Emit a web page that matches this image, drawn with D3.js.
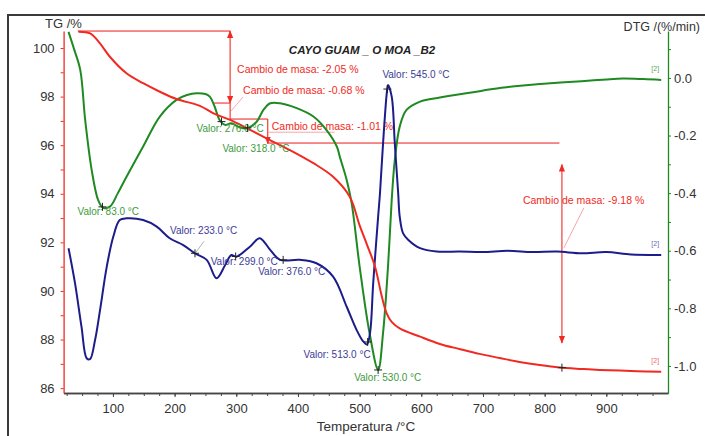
<!DOCTYPE html>
<html>
<head>
<meta charset="utf-8">
<script src="https://cdn.jsdelivr.net/npm/d3@7"></script>
<style>
  html, body { margin: 0; padding: 0; background: #fff; }
  svg { display: block; font-family: "Liberation Sans", Arial, sans-serif; }
</style>
</head>
<body>
<svg id="chart" width="705" height="436"></svg>
<script>
// ---------------- DATA ----------------
const title = "CAYO GUAM _ O MOA _B2";

// TG curve (mass %), red
const tgTemp = [44, 63, 79, 95, 122, 149, 176, 203, 241, 263, 290, 317, 349, 387, 425, 457, 484, 500, 512, 525, 536, 544, 552, 565, 598, 630, 662, 694, 727, 759, 792, 824, 860, 889, 950, 989];
const tgVal  = [100.67, 100.6, 100.19, 99.64, 98.96, 98.55, 98.2, 97.9, 97.62, 97.31, 97.04, 96.7, 96.28, 95.8, 95.26, 94.7, 93.88, 92.7, 91.9, 91.0, 89.77, 89.07, 88.73, 88.46, 88.12, 87.82, 87.61, 87.41, 87.24, 87.08, 86.95, 86.85, 86.79, 86.75, 86.7, 86.67];

// DTG curve (%/min), green
const dtgTemp = [28, 37, 47, 55, 65.5, 76, 84, 95, 108, 122, 149, 176, 203, 220, 236, 250, 257, 265, 273, 282, 292, 303, 317, 333, 344, 355, 371, 398, 425, 446, 463, 468, 479, 487, 500, 516, 530, 538, 546, 552, 557, 565, 576, 598, 630, 657, 684, 710, 738, 765, 792, 820, 846, 875, 900, 927, 960, 989];
const dtgVal  = [0.16, 0.1, 0.028, -0.146, -0.319, -0.424, -0.451, -0.447, -0.4, -0.343, -0.238, -0.134, -0.076, -0.059, -0.053, -0.056, -0.065, -0.1, -0.146, -0.163, -0.157, -0.169, -0.175, -0.152, -0.111, -0.088, -0.088, -0.105, -0.134, -0.18, -0.238, -0.275, -0.354, -0.434, -0.655, -0.885, -1.014, -0.885, -0.655, -0.424, -0.285, -0.169, -0.111, -0.082, -0.068, -0.058, -0.05, -0.04, -0.032, -0.026, -0.021, -0.017, -0.013, -0.009, -0.005, -0.002, -0.004, -0.007];

// third signal (blue), plotted on the TG scale units
const blueTemp = [28, 38.5, 49, 57.4, 62.8, 71, 79, 90, 100.5, 111, 122, 149, 171, 192, 214, 233, 252, 268, 282, 292, 300, 322, 338, 355, 371, 403, 430, 457, 479, 495, 505, 512, 517, 522, 530, 533, 538, 544, 546, 552, 557, 562.5, 565, 570.5, 579, 598, 625, 662, 700, 740, 780, 820, 860, 900, 940, 989];
const blueVal  = [91.76, 90.32, 88.53, 87.23, 87.19, 87.98, 89.2, 91.0, 92.23, 92.92, 92.99, 92.92, 92.65, 92.17, 91.89, 91.55, 91.28, 90.52, 91.07, 91.48, 91.41, 91.82, 92.17, 91.69, 91.28, 91.28, 91.14, 90.59, 89.35, 88.4, 87.95, 87.8, 88.3, 90.32, 93.06, 94.02, 96.08, 98.14, 98.48, 98.0, 96.08, 94.02, 93.06, 92.37, 92.1, 91.76, 91.62, 91.62, 91.6, 91.65, 91.6, 91.62, 91.55, 91.6, 91.5, 91.48];

// axis ticks
const xMajor = [100, 200, 300, 400, 500, 600, 700, 800, 900];
const tgMajor = [86, 88, 90, 92, 94, 96, 98, 100];
const dtgMajor = [0.0, -0.2, -0.4, -0.6, -0.8, -1.0];

// peak annotations ("Valor")
const greenPeaks = [83, 276, 318, 530];
const bluePeaks  = [233, 299, 376, 513, 545];

// mass change annotations
const massSteps = [
  { label: "Cambio de masa: -2.05 %", t: 290, from: 100.7, to: 97.74 },
  { label: "Cambio de masa: -0.68 %", t: 290, from: 97.74, to: 97.08 },
  { label: "Cambio de masa: -1.01 %", t: 351, from: 97.08, to: 96.07 },
  { label: "Cambio de masa: -9.18 %", t: 828, from: 95.2, to: 87.86 }
];
const refLines = [
  { t0: 43, t1: 290, v: 100.7 },
  { t0: 262, t1: 290, v: 97.74 },
  { t0: 290, t1: 351, v: 97.08 },
  { t0: 351, t1: 824, v: 96.07 }
];

// ---------------- CHART ----------------
const svg = d3.select("#chart");
const RED = "#f02a22", GREEN = "#1f8a22", BLUE = "#1c1c8a";
const RED_L = "#f25050";

const x = d3.scaleLinear().domain([20, 1000]).range([63.6, 668]);
const yTG = d3.scaleLinear().domain([85.8, 100.7]).range([393, 31]);
const yDTG = d3.scaleLinear().domain([-1.094, 0.163]).range([393, 31]);

const interp = (ts, vs, t) => {
  for (let i = 1; i < ts.length; i++) {
    if (t <= ts[i]) {
      const f = (t - ts[i - 1]) / (ts[i] - ts[i - 1]);
      return vs[i - 1] + f * (vs[i] - vs[i - 1]);
    }
  }
  return vs[vs.length - 1];
};

// outer frame
svg.append("rect").attr("x", 8).attr("y", 15).attr("width", 800).attr("height", 500)
  .attr("fill", "none").attr("stroke", "#3a3a3a").attr("stroke-width", 2);

// axes
const fmt1 = d => (Math.abs(d) < 1e-9 ? "0.0" : d.toFixed(1));
const styleAxis = (g, color) => {
  g.select(".domain").attr("stroke", color).attr("stroke-width", 1.3);
  g.selectAll(".tick line").attr("stroke", color);
  g.selectAll(".tick text").attr("fill", "#333").style("font-size", "13px")
    .style("font-family", "'Liberation Sans', Arial, sans-serif");
};

// bottom
const gxMinor = svg.append("g").attr("transform", "translate(0,393)")
  .call(d3.axisBottom(x).tickValues(d3.range(25, 1000, 25)).tickSize(3).tickFormat("").tickSizeOuter(0));
styleAxis(gxMinor, "#444");
const gx = svg.append("g").attr("transform", "translate(0,393)")
  .call(d3.axisBottom(x).tickValues(xMajor).tickSize(4).tickPadding(7).tickSizeOuter(0));
styleAxis(gx, "#444");

// left
const gy = svg.append("g").attr("transform", "translate(63.6,0)")
  .call(d3.axisLeft(yTG).tickValues(d3.range(86, 101, 1)).tickSize(3).tickPadding(6).tickSizeOuter(0)
    .tickFormat(d => tgMajor.includes(d) ? d : ""));
styleAxis(gy, RED);

// right
const dtgAll = d3.range(-10, 2).map(i => +(i / 10).toFixed(1));
const gy2 = svg.append("g").attr("transform", "translate(668,0)")
  .call(d3.axisRight(yDTG).tickValues(dtgAll).tickSize(3).tickPadding(3).tickSizeOuter(0)
    .tickFormat(d => dtgMajor.some(m => Math.abs(m - d) < 1e-9) ? fmt1(d) : ""));
styleAxis(gy2, GREEN);

// axis titles
svg.append("text").attr("x", 45).attr("y", 28).text("TG /%")
  .attr("fill", "#333").style("font-size", "13px");
svg.append("text").attr("x", 700).attr("y", 31).attr("text-anchor", "end").text("DTG /(%/min)")
  .attr("fill", "#333").style("font-size", "12.5px");
svg.append("text").attr("x", 366).attr("y", 431).attr("text-anchor", "middle").text("Temperatura /°C")
  .attr("fill", "#333").style("font-size", "13.5px");
svg.append("text").attr("x", 362).attr("y", 54).attr("text-anchor", "middle").text(title)
  .attr("fill", "#222").style("font-size", "11.5px").style("font-weight", "bold").style("font-style", "italic");

// arrow markers
const defs = svg.append("defs");
defs.append("marker").attr("id", "arr").attr("viewBox", "0 0 10 10").attr("refX", 9).attr("refY", 5)
  .attr("markerWidth", 7).attr("markerHeight", 7).attr("orient", "auto-start-reverse")
  .append("path").attr("d", "M0,1 L10,5 L0,9 z").attr("fill", RED);

// reference lines (drawn as thin filled rects)
svg.append("g").attr("class", "reflines").selectAll("rect").data(refLines).join("rect")
  .attr("x", d => x(d.t0)).attr("width", d => x(d.t1) - x(d.t0))
  .attr("y", d => Math.round(yTG(d.v)) - 0.6).attr("height", 1.3)
  .attr("fill", RED_L);

// mass change arrows
const ann = svg.append("g");
massSteps.forEach((s, i) => {
  const ln = ann.append("line")
    .attr("x1", x(s.t)).attr("x2", x(s.t))
    .attr("y1", yTG(s.from)).attr("y2", yTG(s.to))
    .style("stroke", RED).style("stroke-width", "1.1px");
  if (i !== 1) ln.attr("marker-end", "url(#arr)");
  if (i === 0 || i === 3) ln.attr("marker-start", "url(#arr)");
});
// labels
const annText = (txt, px, py) => ann.append("text").attr("x", px).attr("y", py).text(txt)
  .attr("fill", RED).style("font-size", "10.5px");
{
  const s0 = massSteps[0], s1 = massSteps[1], s2 = massSteps[2], s3 = massSteps[3];
  annText(s0.label, x(s0.t) + 7, (yTG(s0.from) + yTG(s0.to)) / 2 + 6);
  const m1 = (yTG(s1.from) + yTG(s1.to)) / 2;
  annText(s1.label, x(s1.t) + 13, m1 - 17);
  ann.append("line").attr("x1", x(s1.t) + 1).attr("y1", m1).attr("x2", x(s1.t) + 13).attr("y2", m1 - 14)
    .style("stroke", "#f59090").style("stroke-width", "0.8px");
  const m2 = (yTG(s2.from) + yTG(s2.to)) / 2;
  annText(s2.label, x(s2.t) + 4, m2 - 1);
  ann.append("line").attr("x1", x(s2.t)).attr("y1", m2 + 1).attr("x2", x(s2.t) + 67).attr("y2", m2 + 1)
    .style("stroke", "#f59090").style("stroke-width", "0.8px");
  const m3 = (yTG(s3.from) + yTG(s3.to)) / 2;
  annText(s3.label, x(s3.t) - 39, m3 - 50);
  ann.append("line").attr("x1", x(s3.t) + 2).attr("y1", m3 - 6).attr("x2", x(s3.t) + 22).attr("y2", m3 - 46)
    .style("stroke", "#f59090").style("stroke-width", "0.8px");
}

// curves
const line = (yS) => d3.line().x(d => x(d[0])).y(d => yS(d[1])).curve(d3.curveCatmullRom.alpha(0.5));
svg.append("path").datum(d3.zip(dtgTemp, dtgVal)).attr("d", line(yDTG))
  .attr("fill", "none").attr("stroke", GREEN).attr("stroke-width", 2);
svg.append("path").datum(d3.zip(blueTemp, blueVal)).attr("d", line(yTG))
  .attr("fill", "none").attr("stroke", BLUE).attr("stroke-width", 2);
svg.append("path").datum(d3.zip(tgTemp, tgVal)).attr("d", line(yTG))
  .attr("fill", "none").attr("stroke", RED).attr("stroke-width", 2);

// crosses
const cross = (px, py) => {
  svg.append("path").attr("d", `M${px - 4},${py}H${px + 4}M${px},${py - 4}V${py + 4}`)
    .attr("stroke", "#222").attr("stroke-width", 1);
};
const valLabel = (txt, px, py, color, anchor) => svg.append("text").attr("x", px).attr("y", py)
  .attr("text-anchor", anchor || "start").text(txt).attr("fill", color).style("font-size", "10px");

const GREEN_T = "#3c9a3c", BLUE_T = "#3c3c96";
const gOff = { 83: [-25, 8], 276: [-25, 10], 318: [-25, 24], 530: [-24, 11] };
greenPeaks.forEach(t => {
  const px = x(t), py = yDTG(interp(dtgTemp, dtgVal, t));
  cross(px, py);
  valLabel(`Valor: ${t.toFixed(1)} °C`, px + gOff[t][0], py + gOff[t][1], GREEN_T);
});
const bOff = { 233: [-25, -19, "start"], 299: [-25, 9, "start"], 376: [-25, 15, "start"], 513: [3, 16, "end"], 545: [-5, -11, "start"] };
bluePeaks.forEach(t => {
  const px = x(t), py = yTG(interp(blueTemp, blueVal, t));
  cross(px, py);
  valLabel(`Valor: ${t.toFixed(1)} °C`, px + bOff[t][0], py + bOff[t][1], BLUE_T, bOff[t][2]);
  if (t === 233) svg.append("line").attr("x1", px + 1).attr("y1", py - 1).attr("x2", px + 9).attr("y2", py - 12)
    .style("stroke", "#9a9ab0").style("stroke-width", "0.8px");
});
cross(x(massSteps[3].t), yTG(interp(tgTemp, tgVal, massSteps[3].t)));

// curve tags
const tag = (ts, vs, yS, color) => {
  const t = ts[ts.length - 1];
  svg.append("text").attr("x", x(t) - 6).attr("y", yS(vs[vs.length - 1]) - 9)
    .attr("text-anchor", "middle").text("[2]").attr("fill", color).style("font-size", "7px");
};
tag(dtgTemp, dtgVal, yDTG, "#5aaa5a");
tag(blueTemp, blueVal, yTG, "#6a6ab0");
tag(tgTemp, tgVal, yTG, "#f06a6a");
</script>
</body>
</html>
